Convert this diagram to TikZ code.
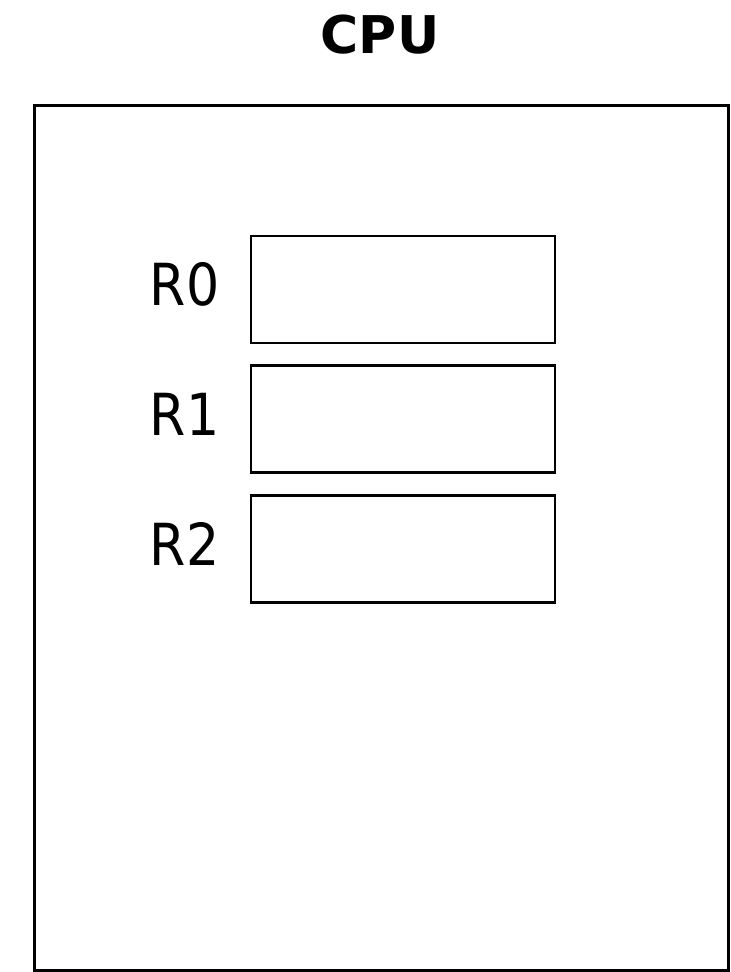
\documentclass[tikz,border=0pt]{standalone}
\usepackage{fontspec}
\setmainfont{DejaVu Sans}
\newfontfamily\regfont{DejaVu Sans Condensed}
\usetikzlibrary{positioning}
\tikzset{%
cpubox/.style={draw,line width=3pt,rectangle},
register/.style={draw,line width=2.8pt,rectangle,minimum width=304pt,minimum height=107pt,inner sep=0},
reglabel/.style={inner sep=0,font=\regfont\fontsize{58}{60}\selectfont},
title/.style={inner sep=0,font=\fontsize{52}{56}\selectfont\bfseries}
}
\begin{document}
\begin{tikzpicture}[x=1pt,y=-1pt]
  \useasboundingbox (0,0) rectangle (731,972);

  \node[title] (cpu) at (380,35) {CPU};
  \draw[cpubox] (34,105) rectangle (728,970);

  % register file
  \node[register] (r0) at (403,289.5) {};
  \node[register] (r1) at (403,419) {};
  \node[register] (r2) at (403,549) {};

  \node[reglabel,left=30pt of r0,yshift=5pt] (l0) {R0};
  \node[reglabel,left=30pt of r1,yshift=5pt] (l1) {R1};
  \node[reglabel,left=30pt of r2,yshift=5pt] (l2) {R2};

\end{tikzpicture}
\end{document}
